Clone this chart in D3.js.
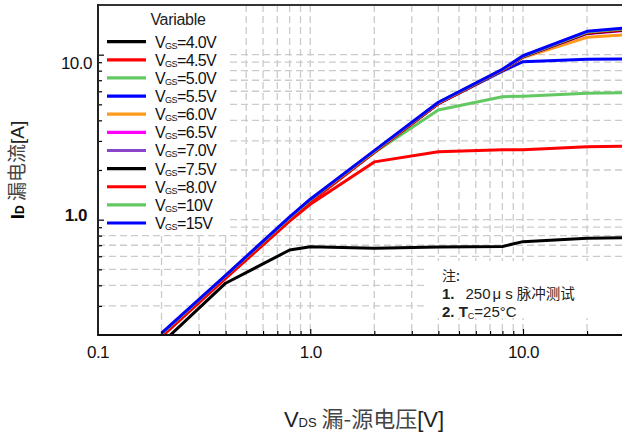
<!DOCTYPE html>
<html><head><meta charset="utf-8">
<script src="https://cdn.jsdelivr.net/npm/d3@7"></script>
<style>body{margin:0;background:#fff} svg{display:block;font-family:"Liberation Sans",Arial,sans-serif}</style>
</head><body>
<svg id="c" width="622" height="437"></svg>
<script>
// ---- data ----
const vds = [0.2, 0.4, 0.8, 1.0, 2.0, 4.0, 8.0, 10, 20, 30];
const vgsNames = ["4.0V","4.5V","5.0V","5.5V","6.0V","6.5V","7.0V","7.5V","8.0V","10V","15V"];
const seriesColors = ["#000000","#ff0000","#62c862","#0000ff","#ff9a1a","#ff00ff","#8a46c8","#000000","#ff0000","#62c862","#0000ff"];
const id_4_0 = [0.178, 0.412, 0.655, 0.686, 0.672, 0.684, 0.688, 0.736, 0.771, 0.778];
const id_4_5 = [0.195, 0.44, 0.98, 1.24, 2.24, 2.58, 2.65, 2.65, 2.77, 2.79];
const id_5_0 = [0.2, 0.45, 1.01, 1.29, 2.55, 4.62, 5.56, 5.6, 5.83, 5.88];
const id_5_5 = [0.2, 0.452, 1.02, 1.3, 2.57, 5.05, 7.95, 9.07, 9.38, 9.4];
const id_6_0 = [0.2, 0.452, 1.02, 1.3, 2.57, 5.07, 8.05, 9.6, 12.75, 13.2];
const id_6_5 = [0.2, 0.452, 1.02, 1.3, 2.58, 5.08, 8.08, 9.7, 13.4, 14.0];
const id_7_0 = [0.2, 0.453, 1.02, 1.31, 2.58, 5.08, 8.08, 9.72, 13.5, 14.2];
const id_7_5 = [0.198, 0.448, 1.0, 1.29, 2.57, 5.06, 8.05, 9.7, 13.5, 14.1];
const id_8_0 = [0.197, 0.446, 0.995, 1.28, 2.56, 5.06, 8.05, 9.72, 13.6, 14.2];
const id_10  = [0.203, 0.458, 1.03, 1.32, 2.6, 5.12, 8.12, 9.78, 13.7, 14.35];
const id_15  = [0.205, 0.46, 1.04, 1.33, 2.62, 5.15, 8.15, 9.85, 13.85, 14.5];
const allSeries = [id_4_0,id_4_5,id_5_0,id_5_5,id_6_0,id_6_5,id_7_0,id_7_5,id_8_0,id_10,id_15];

const xMajorTicks = [0.1, 1, 10];
const xMajorLabels = ["0.1","1.0","10.0"];
const xMinorTicks = [0.2,0.3,0.4,0.5,0.6,0.7,0.8,0.9,2,3,4,5,6,7,8,9,20,30];
const yMajorTicks = [1, 10];
const yMajorLabels = ["1.0","10.0"];
const yMinorTicks = [0.3,0.4,0.5,0.6,0.7,0.8,0.9,2,3,4,5,6,7,8,9];

const legendTitle = "Variable";
const noteTitle = "注:";
const note1 = ["1.", "250", "μ s", "脉冲测试"];
const note2 = ["2. T", "C", "=25°C"];

// ---- layout ----
const svg = d3.select("#c");
const L = 98, R = 650, T = 5, B = 335;
const x = d3.scaleLog().domain([0.1, 10]).range([97.5, 523]);
const y = d3.scaleLog().domain([0.2, 20]).range([B, T]);

svg.append("defs").append("clipPath").attr("id","plot")
  .append("rect").attr("x",L).attr("y",T).attr("width",R-L).attr("height",B-T);

// grid
const grid = svg.append("g").attr("stroke","#cbcbcb").attr("stroke-width",1.3).attr("stroke-dasharray","7,4");
grid.selectAll("line.v").data(xMajorTicks.concat(xMinorTicks).filter(d=>d>0.1)).join("line")
  .attr("x1",d=>x(d)).attr("x2",d=>x(d)).attr("y1",T).attr("y2",B);
grid.selectAll("line.h").data(yMajorTicks.concat(yMinorTicks)).join("line")
  .attr("x1",L).attr("x2",R).attr("y1",d=>y(d)).attr("y2",d=>y(d));

// white boxes (legend and note)
svg.append("rect").attr("x",L+1).attr("y",T+1).attr("width",131).attr("height",226).attr("fill","#fff");
svg.append("rect").attr("x",428).attr("y",261).attr("width",200).attr("height",57).attr("fill","#fff");

// lines
const line = d3.line().x((d,i)=>x(vds[i])).y(d=>y(d));
svg.append("g").attr("clip-path","url(#plot)")
  .selectAll("path").data(allSeries).join("path")
  .attr("d",d=>line(d)).attr("fill","none")
  .attr("stroke",(d,i)=>seriesColors[i]).attr("stroke-width",3).attr("stroke-linejoin","round");

// axes
const xAxisMinor = d3.axisBottom(x).tickValues(xMinorTicks).tickSize(-4).tickFormat("");
const xAxisMajor = d3.axisBottom(x).tickValues(xMajorTicks).tickSize(-6).tickPadding(11)
  .tickFormat((d,i)=>xMajorLabels[i]);
const yAxisMinor = d3.axisLeft(y).tickValues(yMinorTicks).tickSize(-4).tickFormat("");
const yAxisMajor = d3.axisLeft(y).tickValues(yMajorTicks).tickSize(-6).tickPadding(6)
  .tickFormat((d,i)=>yMajorLabels[i]);

function styleAxis(g){
  g.select(".domain").remove();
  g.selectAll("line").attr("stroke","#000").attr("stroke-width",1.2);
  g.selectAll("text").attr("font-size",17).attr("fill","#111").attr("font-family","Liberation Sans, Arial, sans-serif").attr("letter-spacing","-0.5");
}
svg.append("g").attr("transform",`translate(0,${B})`).call(xAxisMinor).call(styleAxis);
svg.append("g").attr("transform",`translate(0,${B})`).call(xAxisMajor).call(styleAxis);
svg.append("g").attr("transform",`translate(${L},0)`).call(yAxisMinor).call(styleAxis);
const yMaj = svg.append("g").attr("transform",`translate(${L},0)`).call(yAxisMajor).call(styleAxis);
// the reference prints its y labels slightly off their ticks
yMaj.selectAll(".tick text").attr("transform",d=> d===1 ? "translate(-5,-5)" : "translate(0,8)")
  .attr("font-weight",d=> d===1 ? "bold" : "normal");

// frame
svg.append("line").attr("x1",L).attr("x2",640).attr("y1",T).attr("y2",T).attr("stroke","#333").attr("stroke-width",2);
svg.append("line").attr("x1",L).attr("x2",L).attr("y1",T-1).attr("y2",B+1).attr("stroke","#222").attr("stroke-width",2);
svg.append("line").attr("x1",L).attr("x2",640).attr("y1",B).attr("y2",B).attr("stroke","#111").attr("stroke-width",2);

// legend
svg.append("text").attr("x",178).attr("y",25).attr("text-anchor","middle").attr("font-size",16)
  .attr("letter-spacing","-0.3").attr("fill","#222").text(legendTitle);
const lg = svg.append("g").selectAll("g").data(vgsNames).join("g")
  .attr("transform",(d,i)=>`translate(0,${41.7 + i*18.13})`);
lg.append("line").attr("x1",107).attr("x2",146).attr("y1",0).attr("y2",0)
  .attr("stroke",(d,i)=>seriesColors[i]).attr("stroke-width",3.2);
const lt = lg.append("text").attr("x",155).attr("y",6).attr("font-size",16).attr("letter-spacing","-0.6").attr("fill","#111");
lt.append("tspan").text("V");
lt.append("tspan").attr("font-size",9).attr("dy",1).text("GS");
lt.append("tspan").attr("dy",-1).text(d=>"="+d);

// axis titles
const yt = svg.append("text").attr("transform","translate(24,170) rotate(-90)").attr("text-anchor","middle").attr("font-size",19).attr("fill","#222");
yt.append("tspan").attr("font-weight","bold").attr("fill","#000").text("I");
yt.append("tspan").attr("font-weight","bold").attr("font-size",12).attr("fill","#000").text("D");
yt.append("tspan").attr("font-family","Noto Sans CJK SC").attr("fill","#444").text(" 漏电流");
yt.append("tspan").text("[A]");

const xt = svg.append("text").attr("x",364).attr("y",427).attr("text-anchor","middle").attr("font-size",22).attr("fill","#222");
xt.append("tspan").text("V");
xt.append("tspan").attr("font-size",13).text("DS");
xt.append("tspan").attr("font-family","Noto Sans CJK SC").attr("fill","#444").text(" 漏-源电压");
xt.append("tspan").text("[V]");

// note
const nt = svg.append("g").attr("font-size",15).attr("fill","#222").attr("font-family","Liberation Sans, Noto Sans CJK SC, sans-serif");
nt.append("text").attr("x",442).attr("y",281).attr("font-family","Noto Sans CJK SC").attr("font-size",14).text(noteTitle);
const n2 = nt.append("text").attr("x",442).attr("y",299);
n2.append("tspan").attr("font-weight","bold").text(note1[0]);
n2.append("tspan").attr("dx",11).text(note1[1]);
n2.append("tspan").attr("dx",2).text(note1[2]);
n2.append("tspan").attr("dx",4).attr("font-family","Noto Sans CJK SC").attr("font-size",14.5).text(note1[3]);
const n3 = nt.append("text").attr("x",442).attr("y",317);
n3.append("tspan").attr("font-weight","bold").text(note2[0]);
n3.append("tspan").attr("font-size",9).attr("dy",2).text(note2[1]);
n3.append("tspan").attr("dy",-2).text(note2[2]);
</script>
</body></html>
